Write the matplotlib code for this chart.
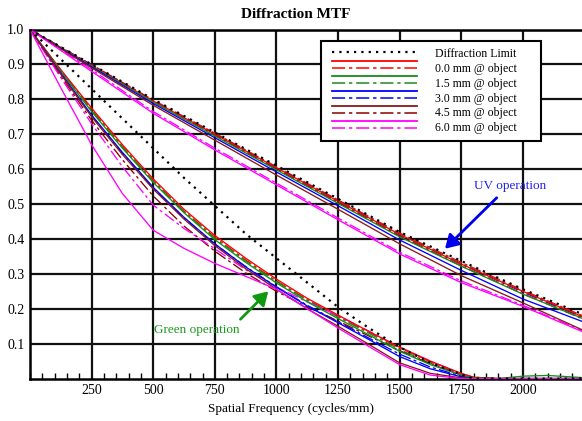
import matplotlib
matplotlib.use("Agg")
import matplotlib.pyplot as plt
from matplotlib.lines import Line2D
from matplotlib.legend_handler import HandlerBase
from matplotlib.ticker import MultipleLocator, FixedLocator

plt.rcParams['font.family'] = ['Liberation Serif', 'DejaVu Serif']

# ---------------- data ----------------
title = "Diffraction MTF"
xlabel = "Spatial Frequency (cycles/mm)"
field_labels = ["0.0 mm @ object", "1.5 mm @ object", "3.0 mm @ object",
                "4.5 mm @ object", "6.0 mm @ object"]
dl_label = "Diffraction Limit"
x_ticks = [250, 500, 750, 1000, 1250, 1500, 1750, 2000]
y_ticks = [0.1, 0.2, 0.3, 0.4, 0.5, 0.6, 0.7, 0.8, 0.9, 1.0]

# Green operation family
freq_g = [0, 125, 250, 375, 500, 625, 750, 875, 1000, 1125, 1250, 1375,
          1500, 1625, 1750, 1800, 1900, 2000, 2100, 2240]
g_dl = [1.0, 0.915, 0.83, 0.745, 0.66, 0.575, 0.495, 0.415, 0.345, 0.275,
        0.205, 0.145, 0.09, 0.045, 0.012, 0.0, 0.0, 0.0, 0.0, 0.0]
g_red = [1.0, 0.885, 0.775, 0.67, 0.572, 0.485, 0.41, 0.345, 0.285, 0.23,
         0.182, 0.135, 0.09, 0.05, 0.015, 0.004, 0.0, 0.0, 0.0, 0.0]
g_red_dd = [1.0, 0.882, 0.77, 0.665, 0.567, 0.48, 0.405, 0.34, 0.28, 0.226,
            0.178, 0.133, 0.088, 0.048, 0.014, 0.004, 0.0, 0.0, 0.0, 0.0]
g_grn = [1.0, 0.88, 0.765, 0.66, 0.562, 0.475, 0.398, 0.333, 0.274, 0.22,
         0.172, 0.125, 0.078, 0.04, 0.01, 0.002, 0.0, 0.007, 0.009, 0.003]
g_grn_dd = [1.0, 0.882, 0.768, 0.663, 0.565, 0.478, 0.402, 0.337, 0.278, 0.224,
            0.176, 0.13, 0.083, 0.044, 0.012, 0.002, 0.0, 0.0, 0.0, 0.0]
g_blu = [1.0, 0.875, 0.755, 0.648, 0.548, 0.462, 0.386, 0.32, 0.262, 0.208,
         0.16, 0.112, 0.063, 0.028, 0.005, 0.0, 0.0, 0.0, 0.0, 0.0]
g_blu_dd = [1.0, 0.873, 0.752, 0.645, 0.545, 0.46, 0.385, 0.321, 0.263, 0.21,
            0.163, 0.116, 0.07, 0.033, 0.007, 0.0, 0.0, 0.0, 0.0, 0.0]
g_brn = [1.0, 0.872, 0.75, 0.642, 0.543, 0.457, 0.381, 0.315, 0.256, 0.2,
         0.15, 0.098, 0.045, 0.015, 0.002, 0.0, 0.0, 0.0, 0.0, 0.0]
g_brn_dd = [1.0, 0.867, 0.74, 0.627, 0.523, 0.437, 0.365, 0.303, 0.25, 0.205,
            0.165, 0.122, 0.08, 0.042, 0.01, 0.0, 0.0, 0.0, 0.0, 0.0]
g_mag = [1.0, 0.833, 0.67, 0.53, 0.425, 0.373, 0.33, 0.293, 0.256, 0.2,
         0.145, 0.092, 0.04, 0.01, 0.0, 0.0, 0.0, 0.0, 0.0, 0.0]
g_mag_dd = [1.0, 0.862, 0.73, 0.607, 0.497, 0.43, 0.372, 0.312, 0.262, 0.22,
            0.18, 0.136, 0.09, 0.05, 0.013, 0.0, 0.0, 0.0, 0.0, 0.0]

# UV operation family
freq_u = [0, 250, 500, 750, 1000, 1250, 1500, 1750, 2000, 2240]
u_dl = [1.0, 0.90, 0.80, 0.705, 0.61, 0.515, 0.42, 0.337, 0.256, 0.185]
u_red = [1.0, 0.897, 0.795, 0.70, 0.604, 0.508, 0.413, 0.328, 0.25, 0.178]
u_red_dd = [1.0, 0.899, 0.798, 0.703, 0.607, 0.512, 0.417, 0.333, 0.253, 0.181]
u_grn = [1.0, 0.895, 0.792, 0.695, 0.598, 0.502, 0.406, 0.322, 0.242, 0.173]
u_grn_dd = [1.0, 0.898, 0.796, 0.701, 0.605, 0.509, 0.414, 0.33, 0.25, 0.178]
u_blu = [1.0, 0.893, 0.788, 0.69, 0.592, 0.495, 0.397, 0.31, 0.228, 0.164]
u_blu_dd = [1.0, 0.898, 0.795, 0.70, 0.604, 0.508, 0.412, 0.328, 0.248, 0.176]
u_brn = [1.0, 0.89, 0.783, 0.683, 0.583, 0.485, 0.386, 0.295, 0.217, 0.14]
u_brn_dd = [1.0, 0.897, 0.793, 0.697, 0.60, 0.504, 0.408, 0.323, 0.243, 0.172]
u_mag = [1.0, 0.88, 0.76, 0.655, 0.555, 0.455, 0.357, 0.275, 0.207, 0.135]
u_mag_dd = [1.0, 0.885, 0.765, 0.66, 0.56, 0.46, 0.362, 0.28, 0.21, 0.138]

# annotation positions (data coordinates)
uv_text = "UV operation"
uv_text_xy = (1948, 0.552)
uv_tail = (1894, 0.518)
uv_head = (1684, 0.372)
gr_text = "Green operation"
gr_text_xy = (675, 0.14)
gr_tail = (854, 0.17)
gr_head = (967, 0.25)

# ---------------- styles ----------------
colors = ["#ff0000", "#1a8c1a", "#0000ff", "#8b1a1a", "#ff00ff"]
dd_colors = ["#ff0000", "#1a8c1a", "#0000ff", "#8b0000", "#ff00ff"]
DD = (0, (8.6, 2.5, 2.2, 2.5))
DOT = (0, (1.0, 2.3))
LW = 0.95

fig = plt.figure(figsize=(5.82, 4.21), dpi=100)
ax = fig.add_axes([30 / 582, (421 - 378.6) / 421, 552 / 582, (378.6 - 29.5) / 421])

g_solid = [g_red, g_grn, g_blu, g_brn, g_mag]
g_dd = [g_red_dd, g_grn_dd, g_blu_dd, g_brn_dd, g_mag_dd]
u_solid = [u_red, u_grn, u_blu, u_brn, u_mag]
u_dd = [u_red_dd, u_grn_dd, u_blu_dd, u_brn_dd, u_mag_dd]

for i in range(5):
    ax.plot(freq_g, g_dd[i], color=dd_colors[i], lw=LW, linestyle=DD, zorder=3)
    ax.plot(freq_u, u_dd[i], color=dd_colors[i], lw=LW, linestyle=DD, zorder=3)
for i in range(5):
    ax.plot(freq_g, g_solid[i], color=colors[i], lw=LW, zorder=4)
    ax.plot(freq_u, u_solid[i], color=colors[i], lw=LW, zorder=4)
ax.plot(freq_g, g_dl, color="black", lw=1.6, linestyle=DOT, zorder=5)
ax.plot(freq_u, u_dl, color="black", lw=1.6, linestyle=DOT, zorder=5)

ax.set_xlim(0, 2240)
ax.set_ylim(0, 1.0)
ax.xaxis.set_major_locator(FixedLocator(x_ticks))
ax.xaxis.set_minor_locator(MultipleLocator(50))
ax.yaxis.set_major_locator(FixedLocator(y_ticks))
ax.set_xticklabels([str(v) for v in x_ticks])
ax.set_yticklabels(["%.1f" % v for v in y_ticks])
ax.tick_params(axis='x', which='major', length=0, pad=4, labelsize=10)
ax.tick_params(axis='x', which='minor', direction='in', length=4, width=1.0)
ax.tick_params(axis='y', which='major', length=0, pad=4, labelsize=10)
ax.grid(True, which='major', color='#111111', lw=1.6, zorder=1)
ax.set_axisbelow(True)
for s in ['left', 'bottom', 'top']:
    ax.spines[s].set_linewidth(1.8)
ax.spines['right'].set_visible(False)

fig.text(296 / 582, 1 - 15 / 421, title, ha='center', va='center',
         fontsize=11, fontweight='bold')
fig.text(291.5 / 582, 1 - 409 / 421, xlabel, ha='center', va='center', fontsize=9.5)

# annotations
ax.annotate("", xy=uv_head, xytext=uv_tail,
            arrowprops=dict(arrowstyle='-|>,head_length=0.5,head_width=0.3',
                            color='#0000ee', lw=2.0,
                            mutation_scale=16, shrinkA=0, shrinkB=0), zorder=6)
ax.text(uv_text_xy[0], uv_text_xy[1], uv_text, color='#2222ee', fontsize=9.5,
        ha='center', va='center', zorder=6)
ax.annotate("", xy=gr_head, xytext=gr_tail,
            arrowprops=dict(arrowstyle='-|>,head_length=0.5,head_width=0.3',
                            color='#0f990f', lw=2.0,
                            mutation_scale=16, shrinkA=0, shrinkB=0), zorder=6)
ax.text(gr_text_xy[0], gr_text_xy[1], gr_text, color='#1a9a1a', fontsize=9.5,
        ha='center', va='center', zorder=6)

# legend
SHIFT = 3.0  # points: extra left inset of the legend sample lines


class PairHandler(HandlerBase):
    def create_artists(self, legend, orig_handle, xdescent, ydescent, width,
                       height, fontsize, trans):
        arts = []
        for h, yf in zip(orig_handle, (1.3, 0.42)):
            y = yf * height - ydescent
            ln = Line2D([-xdescent + SHIFT, -xdescent + width + SHIFT], [y, y],
                        color=h.get_color(), lw=h.get_linewidth(),
                        transform=trans)
            ln.set_linestyle(h._ls_spec)
            arts.append(ln)
        return arts


class SingleHandler(HandlerBase):
    def create_artists(self, legend, orig_handle, xdescent, ydescent, width,
                       height, fontsize, trans):
        y = 0.63 * height - ydescent
        ln = Line2D([-xdescent + SHIFT, -xdescent + width + SHIFT], [y, y],
                    color=orig_handle.get_color(), lw=orig_handle.get_linewidth(),
                    transform=trans)
        ln.set_linestyle(orig_handle._ls_spec)
        return [ln]


class Pair(tuple):
    pass


def proxy(color, ls, lw):
    ln = Line2D([], [], color=color, lw=lw)
    ln.set_linestyle(ls)
    ln._ls_spec = ls
    return ln


handles = [proxy("black", DOT, 1.6)]
for i in range(5):
    handles.append(Pair((proxy(colors[i], '-', 1.3), proxy(dd_colors[i], DD, 1.1))))
labels = [dl_label] + field_labels

leg = ax.legend(handles, labels, loc='upper left', mode='expand',
                bbox_to_anchor=(321 / 582, 1 - 137 / 421, 220 / 582, 96 / 421),
                bbox_transform=fig.transFigure, borderaxespad=0,
                fontsize=8.5, handlelength=7.2, handletextpad=1.5 + SHIFT / 8.5,
                borderpad=0.6, labelspacing=0.24, fancybox=False,
                framealpha=1, edgecolor='black',
                handler_map={Pair: PairHandler(), Line2D: SingleHandler()})
leg.get_frame().set_linewidth(1.5)
leg.set_zorder(10)

fig.savefig("out.png", dpi=100)
